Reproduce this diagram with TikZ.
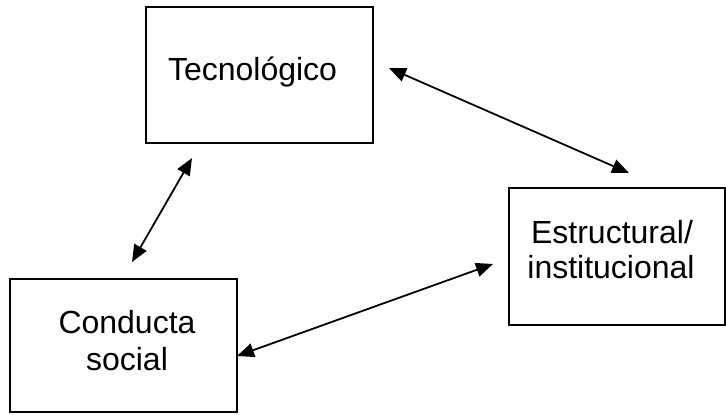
\documentclass[tikz,border=0pt]{standalone}
\usepackage{fontspec}
\setmainfont{Liberation Sans}
\usetikzlibrary{arrows.meta}
\begin{document}
\begin{tikzpicture}[x=1pt,y=-1pt,
  box/.style={draw=black,line width=1.5pt,minimum width=#1,inner sep=0pt},
  lbl/.style={font=\fontsize{32}{36}\selectfont,anchor=base,inner sep=0pt,align=center},
  link/.style={line width=1.8pt,{Triangle[length=17pt,width=14pt]}-{Triangle[length=17pt,width=14pt]}}]
\useasboundingbox (0,0) rectangle (726,415);
% boxes
\node[box=227pt,minimum height=136pt] (tec) at (259.5,75) {};
\node[box=216pt,minimum height=137pt] (est) at (617,256.5) {};
\node[box=227pt,minimum height=133pt] (con) at (123.5,345.5) {};
% labels
\node[lbl] (tect) at (252.5,80) {Tecnológico};
\node[lbl] (estt1) at (612,243) {Estructural/};
\node[lbl] (estt2) at (611,278) {institucional};
\node[lbl] (cont1) at (127,333) {Conducta};
\node[lbl] (cont2) at (127,370) {social};
% arrow end points
\coordinate (te1) at (389,68);
\coordinate (te2) at (629,173);
\coordinate (tc1) at (192,158);
\coordinate (tc2) at (132,262);
\coordinate (ce1) at (237,356);
\coordinate (ce2) at (493,264);
\draw[link] (te1) -- (te2);
\draw[link] (tc1) -- (tc2);
\draw[link] (ce1) -- (ce2);
\end{tikzpicture}
\end{document}
